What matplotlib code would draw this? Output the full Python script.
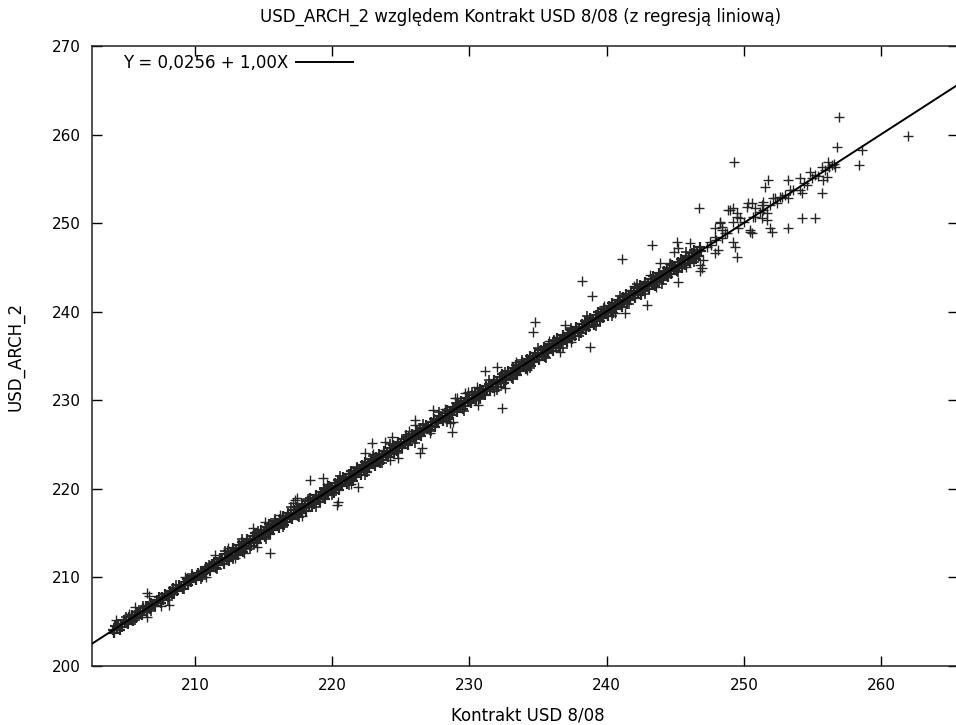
import matplotlib
matplotlib.use("Agg")
import matplotlib.pyplot as plt

# ---------------- data ----------------
title_text = "USD_ARCH_2 względem Kontrakt USD 8/08 (z regresją liniową)"
x_label = "Kontrakt USD 8/08"
y_label = "USD_ARCH_2"
legend_label = "Y = 0,0256 + 1,00X"
intercept = 0.0256
slope = 1.00
x_ticks = [210, 220, 230, 240, 250, 260]
y_ticks = [200, 210, 220, 230, 240, 250, 260, 270]

# dense band of observations (one row per unit of x)
band_x = [
    204.0, 204.1, 204.2, 204.3, 204.4, 204.5, 204.6, 204.7, 204.8, 204.9,
    205.0, 205.1, 205.2, 205.3, 205.4, 205.5, 205.6, 205.7, 205.8, 205.9,
    206.0, 206.1, 206.2, 206.3, 206.4, 206.5, 206.6, 206.7, 206.8, 206.9,
    207.0, 207.1, 207.2, 207.3, 207.4, 207.5, 207.6, 207.7, 207.8, 207.9,
    208.0, 208.1, 208.2, 208.3, 208.4, 208.5, 208.6, 208.7, 208.8, 208.9,
    209.0, 209.1, 209.2, 209.3, 209.4, 209.5, 209.6, 209.7, 209.8, 209.9,
    210.0, 210.1, 210.2, 210.3, 210.4, 210.5, 210.6, 210.7, 210.8, 210.9,
    211.0, 211.1, 211.2, 211.3, 211.4, 211.5, 211.6, 211.7, 211.8, 211.9,
    212.0, 212.1, 212.2, 212.3, 212.4, 212.5, 212.6, 212.7, 212.8, 212.9,
    213.0, 213.1, 213.2, 213.3, 213.4, 213.5, 213.6, 213.7, 213.8, 213.9,
    214.0, 214.1, 214.2, 214.3, 214.4, 214.5, 214.6, 214.7, 214.8, 214.9,
    215.0, 215.1, 215.2, 215.3, 215.4, 215.5, 215.6, 215.7, 215.8, 215.9,
    216.0, 216.1, 216.2, 216.3, 216.4, 216.5, 216.6, 216.7, 216.8, 216.9,
    217.0, 217.1, 217.2, 217.3, 217.4, 217.5, 217.6, 217.7, 217.8, 217.9,
    218.0, 218.1, 218.2, 218.3, 218.4, 218.5, 218.6, 218.7, 218.8, 218.9,
    219.0, 219.1, 219.2, 219.3, 219.4, 219.5, 219.6, 219.7, 219.8, 219.9,
    220.0, 220.1, 220.2, 220.3, 220.4, 220.5, 220.6, 220.7, 220.8, 220.9,
    221.0, 221.1, 221.2, 221.3, 221.4, 221.5, 221.6, 221.7, 221.8, 221.9,
    222.0, 222.1, 222.2, 222.3, 222.4, 222.5, 222.6, 222.7, 222.8, 222.9,
    223.0, 223.1, 223.2, 223.3, 223.4, 223.5, 223.6, 223.7, 223.8, 223.9,
    224.0, 224.1, 224.2, 224.3, 224.4, 224.5, 224.6, 224.7, 224.8, 224.9,
    225.0, 225.1, 225.2, 225.3, 225.4, 225.5, 225.6, 225.7, 225.8, 225.9,
    226.0, 226.1, 226.2, 226.3, 226.4, 226.5, 226.6, 226.7, 226.8, 226.9,
    227.0, 227.1, 227.2, 227.3, 227.4, 227.5, 227.6, 227.7, 227.8, 227.9,
    228.0, 228.1, 228.2, 228.3, 228.4, 228.5, 228.6, 228.7, 228.8, 228.9,
    229.0, 229.1, 229.2, 229.3, 229.4, 229.5, 229.6, 229.7, 229.8, 229.9,
    230.0, 230.1, 230.2, 230.3, 230.4, 230.5, 230.6, 230.7, 230.8, 230.9,
    231.0, 231.1, 231.2, 231.3, 231.4, 231.5, 231.6, 231.7, 231.8, 231.9,
    232.0, 232.1, 232.2, 232.3, 232.4, 232.5, 232.6, 232.7, 232.8, 232.9,
    233.0, 233.1, 233.2, 233.3, 233.4, 233.5, 233.6, 233.7, 233.8, 233.9,
    234.0, 234.1, 234.2, 234.3, 234.4, 234.5, 234.6, 234.7, 234.8, 234.9,
    235.0, 235.1, 235.2, 235.3, 235.4, 235.5, 235.6, 235.7, 235.8, 235.9,
    236.0, 236.1, 236.2, 236.3, 236.4, 236.5, 236.6, 236.7, 236.8, 236.9,
    237.0, 237.1, 237.2, 237.3, 237.4, 237.5, 237.6, 237.7, 237.8, 237.9,
    238.0, 238.1, 238.2, 238.3, 238.4, 238.5, 238.6, 238.7, 238.8, 238.9,
    239.0, 239.1, 239.2, 239.3, 239.4, 239.5, 239.6, 239.7, 239.8, 239.9,
    240.0, 240.1, 240.2, 240.3, 240.4, 240.5, 240.6, 240.7, 240.8, 240.9,
    241.0, 241.1, 241.2, 241.3, 241.4, 241.5, 241.6, 241.7, 241.8, 241.9,
    242.0, 242.1, 242.2, 242.3, 242.4, 242.5, 242.6, 242.7, 242.8, 242.9,
    243.0, 243.1, 243.2, 243.3, 243.4, 243.5, 243.6, 243.7, 243.8, 243.9,
    244.0, 244.1, 244.2, 244.3, 244.4, 244.5, 244.6, 244.7, 244.8, 244.9,
    245.0, 245.1, 245.2, 245.3, 245.4, 245.5, 245.6, 245.7, 245.8, 245.9,
    246.0, 246.1, 246.2, 246.3, 246.4, 246.5, 246.6, 246.7, 246.8, 246.9,
]
band_y = [
    204.05, 203.75, 204.50, 204.18, 204.78, 204.10, 204.75, 204.45, 205.15, 204.88,
    205.05, 204.75, 205.50, 205.18, 205.78, 205.10, 205.75, 205.45, 206.15, 205.88,
    206.05, 205.75, 206.50, 206.18, 206.78, 206.10, 206.75, 206.45, 207.15, 206.88,
    207.05, 206.75, 207.50, 207.18, 207.78, 207.10, 207.75, 207.45, 208.15, 207.88,
    208.05, 207.75, 208.50, 208.18, 208.78, 208.10, 208.75, 208.45, 209.15, 208.88,
    209.05, 208.75, 209.50, 209.18, 209.78, 209.10, 209.75, 209.45, 210.15, 209.88,
    210.05, 209.75, 210.50, 210.18, 210.78, 210.10, 210.75, 210.45, 211.15, 210.88,
    211.05, 210.75, 211.50, 211.18, 211.78, 211.10, 211.75, 211.45, 212.15, 211.88,
    212.10, 211.55, 212.65, 212.10, 212.98, 211.90, 212.85, 212.30, 213.32, 212.85,
    213.10, 212.55, 213.65, 213.10, 213.98, 212.90, 213.85, 213.30, 214.32, 213.85,
    214.10, 213.55, 214.65, 214.10, 214.98, 213.90, 214.85, 214.30, 215.32, 214.85,
    215.10, 214.55, 215.65, 215.10, 215.98, 214.90, 215.85, 215.30, 216.32, 215.85,
    216.10, 215.55, 216.65, 216.10, 216.98, 215.90, 216.85, 216.30, 217.32, 216.85,
    217.10, 216.55, 217.65, 217.10, 217.98, 216.90, 217.85, 217.30, 218.32, 217.85,
    218.10, 217.55, 218.65, 218.10, 218.98, 217.90, 218.85, 218.30, 219.32, 218.85,
    219.10, 218.55, 219.65, 219.10, 219.98, 218.90, 219.85, 219.30, 220.32, 219.85,
    220.10, 219.55, 220.65, 220.10, 220.98, 219.90, 220.85, 220.30, 221.32, 220.85,
    221.10, 220.55, 221.65, 221.10, 221.98, 220.90, 221.85, 221.30, 222.32, 221.85,
    222.10, 221.55, 222.65, 222.10, 222.98, 221.90, 222.85, 222.30, 223.32, 222.85,
    223.10, 222.55, 223.65, 223.10, 223.98, 222.90, 223.85, 223.30, 224.32, 223.85,
    224.10, 223.55, 224.65, 224.10, 224.98, 223.90, 224.85, 224.30, 225.32, 224.85,
    225.08, 224.65, 225.58, 225.15, 225.88, 225.00, 225.80, 225.38, 226.24, 225.86,
    226.08, 225.65, 226.58, 226.15, 226.88, 226.00, 226.80, 226.38, 227.24, 226.86,
    227.08, 226.65, 227.58, 227.15, 227.88, 227.00, 227.80, 227.38, 228.24, 227.86,
    228.08, 227.65, 228.58, 228.15, 228.88, 228.00, 228.80, 228.38, 229.24, 228.86,
    229.08, 228.65, 229.58, 229.15, 229.88, 229.00, 229.80, 229.38, 230.24, 229.86,
    230.08, 229.65, 230.58, 230.15, 230.88, 230.00, 230.80, 230.38, 231.24, 230.86,
    231.08, 230.65, 231.58, 231.15, 231.88, 231.00, 231.80, 231.38, 232.24, 231.86,
    232.10, 231.55, 232.65, 232.10, 232.98, 231.90, 232.85, 232.30, 233.32, 232.85,
    233.10, 232.55, 233.65, 233.10, 233.98, 232.90, 233.85, 233.30, 234.32, 233.85,
    234.10, 233.55, 234.65, 234.10, 234.98, 233.90, 234.85, 234.30, 235.32, 234.85,
    235.10, 234.55, 235.65, 235.10, 235.98, 234.90, 235.85, 235.30, 236.32, 235.85,
    236.10, 235.55, 236.65, 236.10, 236.98, 235.90, 236.85, 236.30, 237.32, 236.85,
    237.10, 236.55, 237.65, 237.10, 237.98, 236.90, 237.85, 237.30, 238.32, 237.85,
    238.10, 237.55, 238.65, 238.10, 238.98, 237.90, 238.85, 238.30, 239.32, 238.85,
    239.10, 238.55, 239.65, 239.10, 239.98, 238.90, 239.85, 239.30, 240.32, 239.85,
    240.10, 239.55, 240.65, 240.10, 240.98, 239.90, 240.85, 240.30, 241.32, 240.85,
    241.10, 240.55, 241.65, 241.10, 241.98, 240.90, 241.85, 241.30, 242.32, 241.85,
    242.10, 241.55, 242.65, 242.10, 242.98, 241.90, 242.85, 242.30, 243.32, 242.85,
    243.10, 242.55, 243.65, 243.10, 243.98, 242.90, 243.85, 243.30, 244.32, 243.85,
    244.10, 243.55, 244.65, 244.10, 244.98, 243.90, 244.85, 244.30, 245.32, 244.85,
    245.10, 244.55, 245.65, 245.10, 245.98, 244.90, 245.85, 245.30, 246.32, 245.85,
    246.10, 245.55, 246.65, 246.10, 246.98, 245.90, 246.85, 246.30, 247.32, 246.85,
]

# observations on the ragged edges of the band
edge_x = [
    205.0, 205.6, 206.2, 206.8, 207.4, 208.0, 208.6, 209.2, 209.8, 210.4,
    211.0, 211.6, 212.2, 212.8, 213.4, 214.0, 214.6, 215.2, 215.8, 216.4,
    217.0, 217.6, 218.2, 218.8, 219.4, 220.0, 220.6, 221.2, 221.8, 222.4,
    223.0, 223.6, 224.2, 224.8, 225.4, 226.0, 226.6, 227.2, 227.8, 228.4,
    229.0, 229.6, 230.2, 230.8, 231.4, 232.0, 232.6, 233.2, 233.8, 234.4,
    235.0, 235.6, 236.2, 236.8, 237.4, 238.0, 238.6, 239.2, 239.8, 240.4,
    241.0, 241.6, 242.2, 242.8, 243.4, 244.0, 244.6, 245.2, 245.8, 246.4,
]
edge_y = [
    205.50, 205.15, 206.80, 206.25, 207.80, 207.40, 209.10, 208.75, 210.40, 209.85,
    211.40, 211.00, 212.95, 212.10, 214.30, 213.20, 215.25, 214.35, 216.55, 215.70,
    217.90, 216.80, 218.85, 217.95, 220.15, 219.30, 221.50, 220.40, 222.45, 221.55,
    223.75, 222.90, 225.10, 224.00, 226.05, 225.15, 227.35, 226.50, 228.70, 227.60,
    229.65, 228.75, 230.95, 230.10, 232.30, 231.20, 233.25, 232.35, 234.55, 233.70,
    235.90, 234.80, 236.85, 235.95, 238.15, 237.30, 239.50, 238.40, 240.45, 239.55,
    241.75, 240.90, 243.10, 242.00, 244.05, 243.15, 245.35, 244.50, 246.70, 245.60,
]

# scattered observations away from / beyond the band
scatter_x = [
    206.50, 206.65, 205.63, 208.10, 206.50, 211.46, 214.52, 215.47, 214.23, 215.10,
    212.92, 217.14, 217.43, 204.24,
    218.38, 217.29, 220.42, 221.88, 222.90, 222.39, 223.85, 224.36, 226.03, 226.03,
    226.40, 226.55, 224.80, 227.35, 228.73, 228.59, 229.10, 229.68, 219.33, 219.33,
    220.35,
    234.78, 234.64, 238.94, 238.79, 236.97, 236.60, 232.38, 231.14, 232.01, 232.59,
    230.63, 230.77, 229.90, 230.55, 228.80, 228.95, 238.20,
    241.12, 243.31, 242.94, 241.34, 245.20, 245.13, 245.20, 244.91, 246.08, 246.81,
    246.81, 246.95, 243.89, 243.16, 247.90, 248.12,
    248.99, 249.50, 249.72, 250.31, 250.82, 250.67, 250.45, 251.40, 251.69, 248.27,
    248.41, 247.90,
    256.14, 256.43, 256.65, 255.92, 255.70, 254.82, 255.19, 254.97, 254.10, 254.61,
    254.10, 253.22, 253.37, 253.00, 253.22, 252.64, 252.27, 251.76, 251.55, 252.13,
    251.91, 251.33, 251.40, 250.60, 250.23, 249.21, 248.85, 249.50, 249.21, 248.27,
    248.41, 248.63, 247.90, 247.54, 247.32, 247.03, 249.21, 249.36, 249.50, 250.45,
    250.60, 251.33, 251.69, 251.91, 252.06, 253.22, 254.24, 255.19, 255.70, 254.24,
    256.06, 255.77, 258.40, 258.61, 256.79, 256.94, 261.97, 249.29, 246.73,
    247.60, 248.00, 248.40, 248.80, 249.60, 250.00, 250.80, 251.20, 252.40, 252.80,
    253.60, 254.40, 255.40, 256.20, 256.60,
    205.20, 207.50, 209.30, 210.80, 212.40, 213.60, 216.20, 217.80, 219.60, 221.40,
    223.00, 224.20, 225.60, 227.10, 228.20, 231.80, 233.40, 234.20, 235.80, 237.40,
    239.80, 240.60, 242.00, 243.60, 244.60, 245.80,
]
scatter_y = [
    208.24, 207.90, 206.66, 206.88, 205.53, 212.53, 213.43, 212.75, 215.58, 216.25,
    212.19, 218.40, 218.96, 205.19,
    220.99, 218.74, 218.51, 220.20, 225.17, 224.04, 225.28, 225.85, 227.77, 227.20,
    224.04, 224.60, 223.48, 228.89, 226.41, 227.43, 230.25, 230.81, 221.22, 219.07,
    218.17,
    238.83, 237.70, 241.76, 236.00, 238.49, 235.44, 229.12, 233.30, 233.75, 231.38,
    229.46, 230.25, 230.93, 231.49, 227.54, 230.25, 243.50,
    245.94, 247.52, 240.74, 239.84, 243.34, 247.86, 247.18, 246.73, 247.75, 245.26,
    244.58, 244.92, 245.49, 244.13, 246.61, 246.95,
    251.46, 251.13, 250.56, 252.25, 251.69, 250.68, 248.98, 252.37, 251.13, 250.00,
    249.21, 249.44,
    256.88, 256.55, 256.32, 255.98, 256.32, 255.76, 255.42, 255.08, 255.08, 254.29,
    253.72, 254.85, 253.72, 253.16, 252.82, 252.93, 252.82, 254.85, 254.06, 252.82,
    252.03, 252.03, 251.46, 252.25, 251.80, 251.69, 251.46, 250.68, 250.11, 250.11,
    249.55, 248.87, 248.42, 247.86, 247.29, 245.82, 247.86, 247.29, 246.16, 249.21,
    248.87, 250.56, 250.34, 249.44, 248.98, 249.44, 250.56, 250.56, 253.39, 253.39,
    255.19, 254.85, 256.55, 258.24, 258.58, 261.96, 259.82, 256.88, 251.69,
    247.50, 248.10, 248.30, 248.90, 249.50, 250.10, 250.70, 251.30, 252.30, 252.90,
    253.70, 254.50, 255.30, 256.30, 256.70,
    205.90, 206.80, 210.00, 210.00, 213.30, 212.80, 217.10, 216.90, 220.50, 220.50,
    223.90, 223.30, 226.50, 226.30, 229.00, 231.00, 234.30, 233.40, 236.70, 236.60,
    240.60, 239.80, 242.90, 242.80, 245.50, 245.00,
]

# ---------------- figure ----------------
plt.rcParams["font.family"] = ["DejaVu Sans"]
W, H = 956, 725
fig = plt.figure(figsize=(W / 100, H / 100), dpi=100)
ax = fig.add_axes([92 / W, 59 / H, 866 / W, 620 / H])

mark_color = "#262626"
ax.plot(band_x, band_y, linestyle="none", marker="+", ms=7.4, mew=1.6,
        color=mark_color, zorder=2)
ax.plot(edge_x, edge_y, linestyle="none", marker="+", ms=7.2, mew=1.2,
        color=mark_color, zorder=2)
ax.plot(scatter_x, scatter_y, linestyle="none", marker="+", ms=7.2, mew=1.0,
        color=mark_color, zorder=2)
ax.axline((0, intercept), slope=slope, color="black", lw=1.4, zorder=3,
          label=legend_label)

ax.set_xlim(202.49, 265.61)
ax.set_ylim(200, 270)
ax.set_xticks(x_ticks)
ax.set_yticks(y_ticks)
ax.tick_params(direction="in", length=7, width=1, top=True, right=True,
               labelsize=11, colors="black")
ax.tick_params(axis="x", pad=9)
ax.tick_params(axis="y", pad=8)
for sp in ax.spines.values():
    sp.set_linewidth(1.1)
    sp.set_color("#222222")

txt_size = 12
ax.legend(loc="upper left", bbox_to_anchor=(0.022, 1.006), frameon=False,
          markerfirst=False, handlelength=3.4, handletextpad=0.5,
          fontsize=txt_size, borderaxespad=0.3)

fig.text(521 / W, 1 - 17 / H, title_text, ha="center", va="center", fontsize=txt_size)
fig.text(528 / W, 1 - 716 / H, x_label, ha="center", va="center", fontsize=txt_size)
fig.text(16 / W, 1 - 356 / H, y_label, ha="center", va="center", rotation=90,
         fontsize=txt_size)

fig.savefig("out.png", dpi=100)
